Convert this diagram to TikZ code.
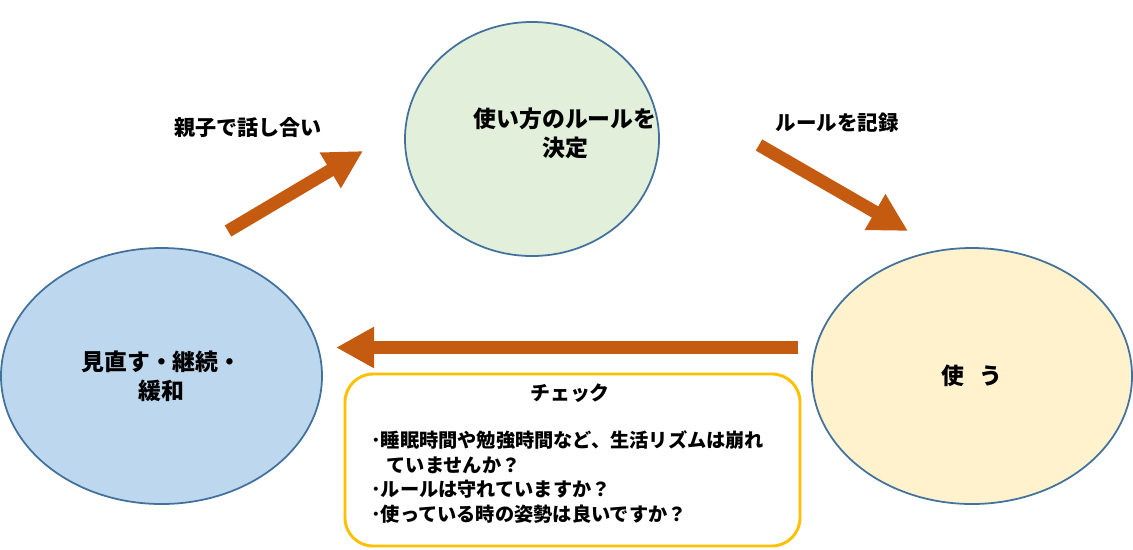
\documentclass[tikz,border=0pt]{standalone}
\usepackage{fontspec}
\newfontfamily\jp{Noto Sans CJK JP}
\usetikzlibrary{shapes.geometric,arrows.meta}
\definecolor{edgeblue}{HTML}{41719C}
\definecolor{fillgreen}{HTML}{E2EFDA}
\definecolor{fillblue}{HTML}{BDD7EE}
\definecolor{fillyellow}{HTML}{FFF2CC}
\definecolor{arrowbrown}{HTML}{C55A11}
\definecolor{boxgold}{HTML}{FFC000}
\tikzset{
  stage/.style={ellipse, draw=edgeblue, line width=1.5pt, inner sep=0pt, align=center,
    font=\jp\bfseries\fontsize{19.5pt}{25pt}\selectfont},
  stagetext/.style={inner sep=0pt, align=center, font=\jp\bfseries\fontsize{19.5pt}{25pt}\selectfont},
  flow/.style={draw=arrowbrown, line width=11pt, line cap=butt,
    -{Triangle[width=33pt,length=32.5pt]}},
  steplabel/.style={font=\jp\bfseries\fontsize{18pt}{22pt}\selectfont, inner sep=0pt},
  checkbox/.style={draw=boxgold, line width=2.5pt, rounded corners=24pt, fill=white},
}
\begin{document}
\begin{tikzpicture}[x=0.03cm,y=-0.03cm]
\useasboundingbox (0,0) rectangle (1133,549);
% stages
\node[stage, fill=fillgreen, minimum width=7.62cm, minimum height=7.02cm] (decide) at (532,139) {};
\node[stagetext] (decidetext) at (565,133) {使い方のルールを\\決定};
\node[stage, fill=fillblue, minimum width=9.63cm, minimum height=7.68cm] (review) at (161.5,376)
  {見直す・継続・\\緩和};
\node[stage, fill=fillyellow, minimum width=9.6cm, minimum height=7.68cm] (use) at (972,376)
  {使\hspace{0.7em}う};
% arrows
\coordinate (a1s) at (228,231);
\coordinate (a1e) at (363,151);
\coordinate (a2s) at (759,145);
\coordinate (a2e) at (908,231);
\coordinate (a3s) at (798,347.5);
\coordinate (a3e) at (336,347.5);
\draw[flow] (a1s) -- (a1e);
\draw[flow] (a2s) -- (a2e);
\draw[flow] (a3s) -- (a3e);
% arrow labels
\node[steplabel] (l1) at (248,128) {親子で話し合い};
\node[steplabel, font=\jp\bfseries\fontsize{17.5pt}{22pt}\selectfont] (l2) at (837,123) {ルールを記録};
% check box
\node[checkbox, minimum width=13.65cm, minimum height=5.16cm] (box) at (572.5,460) {};
\node[font=\jp\bfseries\fontsize{17pt}{20pt}\selectfont, inner sep=0pt] (boxtitle) at (570,393) {チェック};
\node[font=\jp\bfseries\fontsize{16.4pt}{21pt}\selectfont, inner sep=0pt, anchor=west, align=left] (boxlist) at (371,477)
  {･睡眠時間や勉強時間など、生活リズムは崩れ\\
   \hspace{0.8em}ていませんか？\\
   ･ルールは守れていますか？\\
   ･使っている時の姿勢は良いですか？};
\end{tikzpicture}
\end{document}
